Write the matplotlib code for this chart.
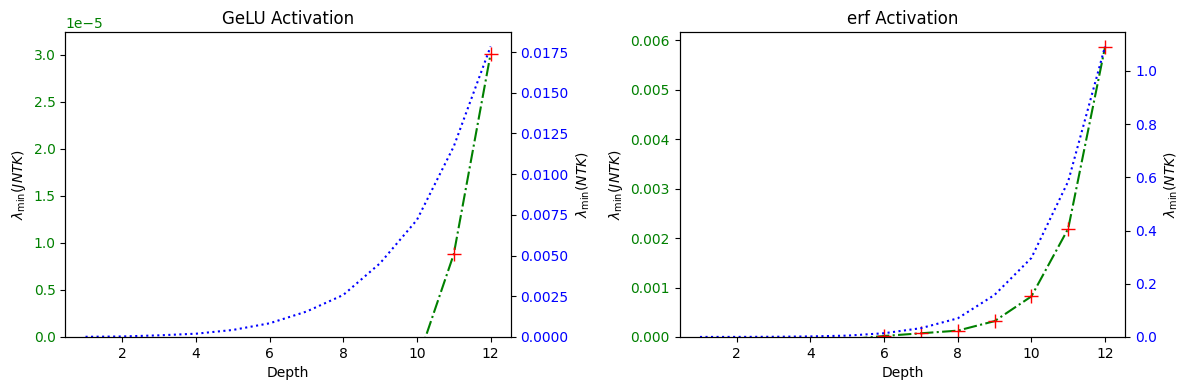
import matplotlib
matplotlib.use("Agg")
import matplotlib.pyplot as plt
import numpy as np

depth = np.arange(1, 13)

# GeLU: lambda_min(JNTK) (left axis) and lambda_min(NTK) (right axis)
gelu_jntk = np.array([-1.6, -1.5, -1.4, -1.3, -1.2, -1.1, -0.9, -0.7, -0.5, -0.27, 0.879, 3.007]) * 1e-5
gelu_ntk = np.array([0.00001, 0.00003, 0.0001, 0.0002, 0.00043, 0.00084, 0.00156, 0.00258,
                     0.00453, 0.00719, 0.0117, 0.01784])

# erf
erf_jntk = np.array([-0.00028, -0.0002, -0.00015, -0.0001, -0.00005, 0.00002, 0.000074, 0.000128,
                     0.00032, 0.00082, 0.00219, 0.00586])
erf_ntk = np.array([0.0001, 0.0002, 0.0007, 0.002, 0.005, 0.014, 0.033, 0.070,
                    0.158, 0.297, 0.585, 1.092])

panels = [
    ("GeLU Activation", gelu_jntk, gelu_ntk, (0, 3.24e-5)),
    ("erf Activation", erf_jntk, erf_ntk, (0, 0.006167)),
]

fig, axes = plt.subplots(1, 2, figsize=(11.89, 3.9), dpi=100)
fig.subplots_adjust(left=0.0549, right=0.9464, bottom=0.136, top=0.918, wspace=0.379)

for ax, (title, jntk, ntk, ylim) in zip(axes, panels):
    ax.plot(depth, jntk, color="green", linestyle="-.")
    pos = jntk > 0
    ax.plot(depth[pos], jntk[pos], "r+", markersize=10)
    ax.set_ylim(*ylim)
    ax.set_xlabel("Depth")
    ax.set_ylabel(r"$\lambda_{\min}(JNTK)$")
    ax.tick_params(axis="y", labelcolor="green")
    ax.yaxis.get_offset_text().set_color("green")
    ax.set_title(title)

    ax2 = ax.twinx()
    ax2.plot(depth, ntk, color="blue", linestyle=":")
    ax2.set_ylim(bottom=0)
    ax2.set_ylabel(r"$\lambda_{\min}(NTK)$")
    ax2.tick_params(axis="y", labelcolor="blue")

fig.savefig("out.png")
